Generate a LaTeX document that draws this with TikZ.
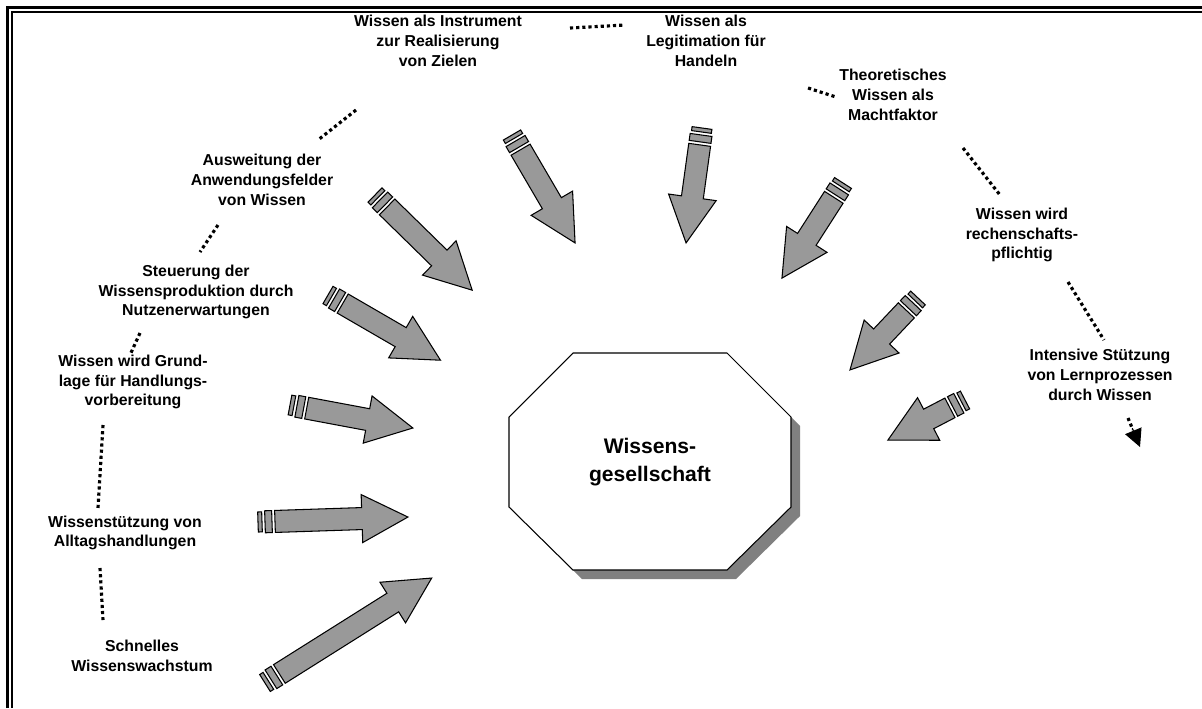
\documentclass[tikz,border=0pt]{standalone}
\usepackage{fontspec}
\setmainfont{Liberation Sans}
\usepackage{xcolor}
\usetikzlibrary{arrows.meta,calc}
\definecolor{arrowgray}{RGB}{153,153,153}
\definecolor{shadowgray}{RGB}{128,128,128}
\newcommand{\lblfont}{\fontsize{9}{11.2}\selectfont\bfseries}

\tikzset{
  lbl/.style={font=\lblfont,align=center,inner sep=1pt},
  link/.style={line width=1.8pt,dash pattern=on 1.8pt off 1.7pt},
  barfill/.style={draw=black,fill=arrowgray,line width=0.6pt,line join=miter},
  pics/feed/.style={code={
    \draw[barfill] (0,-10) rectangle (4,10);
    \draw[barfill] (7,-11) rectangle (14,11);
    \draw[barfill] (17,-11) -- ({#1-46},-11) -- ({#1-46},-24) -- (#1,0)
      -- ({#1-46},24) -- ({#1-46},11) -- (17,11) -- cycle;
  }}
}

\begin{document}
\begin{tikzpicture}[x=0.02cm,y=-0.02cm]
  \useasboundingbox (0,0) rectangle (1202,708);

  % frame
  \draw[line width=1.7pt] (7.5,708) -- (7.5,7.5) -- (1202,7.5);
  \draw[line width=0.6pt] (12,708) -- (12,12) -- (1202,12);

  % centre
  \fill[shadowgray] (582,362) -- (736,362) -- (800,426) -- (800,516)
    -- (736,579) -- (582,579) -- (518,516) -- (518,426) -- cycle;
  \draw[fill=white,line width=0.6pt] (573,353) -- (727,353) -- (791,417) -- (791,507)
    -- (727,570) -- (573,570) -- (509,507) -- (509,417) -- cycle;
  \node[font=\fontsize{12}{16}\selectfont\bfseries,align=center] (soc) at (650,462)
    {Wissens-\\gesellschaft};

  % labels
  \node[lbl] (instr)  at (438,41)  {Wissen als Instrument\\zur Realisierung\\von Zielen};
  \node[lbl] (legit)  at (706,41)  {Wissen als\\Legitimation für\\Handeln};
  \node[lbl] (macht)  at (893,95)  {Theoretisches\\Wissen als\\Machtfaktor};
  \node[lbl] (rechen) at (1022,235) {Wissen wird\\rechenschafts-\\pflichtig};
  \node[lbl] (lern)   at (1100,375) {Intensive Stützung\\von Lernprozessen\\durch Wissen};
  \node[lbl] (ausw)   at (262,180) {Ausweitung der\\Anwendungsfelder\\von Wissen};
  \node[lbl] (steuer) at (196,292) {Steuerung der\\Wissensproduktion durch\\Nutzenerwartungen};
  \node[lbl] (grund)  at (133,382) {Wissen wird Grund-\\lage für Handlungs-\\vorbereitung};
  \node[lbl] (alltag) at (125,533) {Wissenstützung von\\Alltagshandlungen};
  \node[lbl] (schnell) at (142,656) {Schnelles\\Wissenswachstum};

  % dotted chain
  \coordinate (d1a) at (570,28);   \coordinate (d1b) at (625,25);
  \coordinate (d2a) at (808,88);   \coordinate (d2b) at (836,97);
  \coordinate (d3a) at (963,148);  \coordinate (d3b) at (1000,195);
  \coordinate (d4a) at (1068,282); \coordinate (d4b) at (1104,340);
  \coordinate (d5a) at (1128,418); \coordinate (d5b) at (1140,447);
  \coordinate (d6a) at (356,110);  \coordinate (d6b) at (318,140);
  \coordinate (d7a) at (218,225);  \coordinate (d7b) at (200,252);
  \coordinate (d8a) at (140,333);  \coordinate (d8b) at (130,355);
  \coordinate (d9a) at (103,425);  \coordinate (d9b) at (98,508);
  \coordinate (d10a) at (100,568); \coordinate (d10b) at (103,620);
  \foreach \i in {1,2,3,4,6,7,8,9,10}
    \draw[link] (d\i a) -- (d\i b);
  \draw[link] (d5a) -- ($(d5a)!0.4!(d5b)$);
  \draw[line width=0.6pt,-{Triangle[length=10pt,width=10pt]}] ($(d5a)!0.35!(d5b)$) -- (d5b);

  % block arrows towards the centre
  \pic[rotate=32.2]   at (265,683) {feed=197};
  \pic[rotate=1.9]    at (258,522) {feed=150};
  \pic[rotate=-10.6]  at (290,405) {feed=125};
  \pic[rotate=-30.1]  at (328,295) {feed=130};
  \pic[rotate=-44.4]  at (375,195) {feed=136};
  \pic[rotate=-59.7]  at (512,135) {feed=125};
  \pic[rotate=-97.9]  at (702,128) {feed=116};
  \pic[rotate=-122.7] at (843,183) {feed=113};
  \pic[rotate=-133.4] at (918,298) {feed=99};
  \pic[rotate=-152.5] at (965,400) {feed=87};
\end{tikzpicture}
\end{document}
